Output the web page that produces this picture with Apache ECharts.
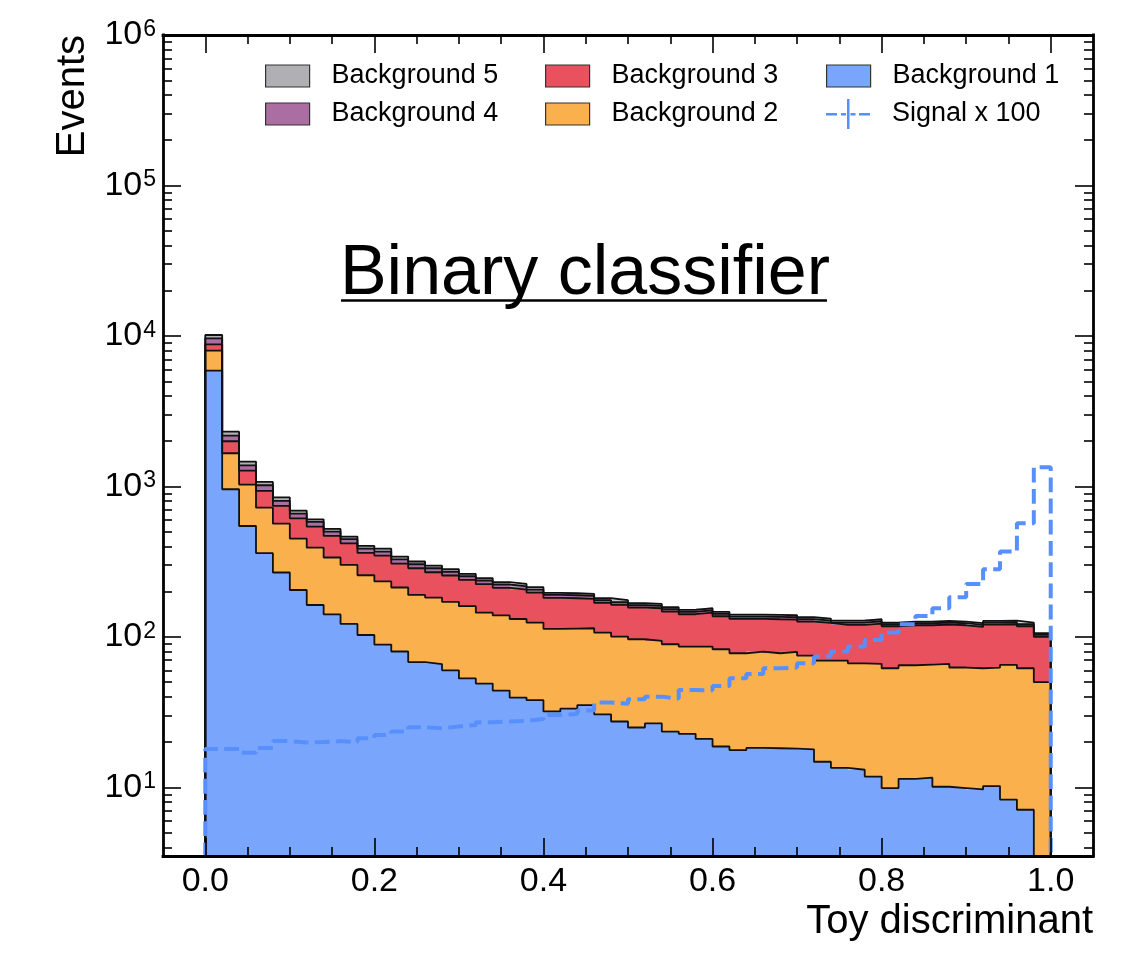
<!DOCTYPE html>
<html>
<head>
<meta charset="utf-8">
<title>Binary classifier</title>
<script src="https://cdn.jsdelivr.net/npm/echarts@6/dist/echarts.min.js"></script>
<style>
  html, body { margin: 0; padding: 0; background: #ffffff; }
  #chart { width: 1128px; height: 966px; }
</style>
</head>
<body>
<div id="chart"></div>
<script>
// 50 bins of width 0.02 on the toy discriminant, [0, 1]
const binEdges = Array.from({ length: 51 }, (_, i) => Math.round(i * 2) / 100);

// Events per bin for each background component (stacked bottom to top: 1 -> 5)
const background1 = [5885, 958, 546, 360, 268, 205, 163, 141, 122, 103,
  89, 80, 68, 66, 60, 53, 49, 44, 39.5, 38,
  32, 33.4, 35.2, 30.6, 27.4, 25, 26.6, 23.5, 22.7, 21,
  18.7, 17.7, 18.3, 18.2, 18.1, 17.9, 14.8, 13.5, 13.1, 11.8,
  9.9, 11.4, 11.6, 10.1, 9.9, 9.7, 10.2, 8.3, 7.1, 0];
const background2 = [2105, 703, 483, 363, 298, 245, 229, 196, 179, 154,
  145, 133, 122, 116.6, 111, 107, 96, 95, 92, 86.6,
  81, 80.2, 79, 76.3, 73.1, 71.5, 67.5, 65.9, 63.6, 65.3,
  64.1, 60.2, 61.6, 59.7, 61.4, 57.3, 54.8, 56.1, 53.7, 54.4,
  52, 53.4, 53.9, 56.1, 52.7, 52.2, 52.4, 56.9, 54.8, 50];
const background3 = [810, 335, 245, 211, 176, 164, 149, 132, 118, 104.5,
  113, 94, 96, 86.4, 85, 79, 79, 73, 74.5, 72.4,
  68.6, 67.1, 64.7, 61.4, 62.7, 60.1, 61, 57.9, 55.2, 58.8,
  54.4, 53.8, 51.8, 53.1, 50.9, 51.2, 54.3, 50.6, 53.4, 56.4,
  55.8, 54.7, 54, 54.6, 56.9, 54.6, 58.2, 56.2, 55.8, 50];
const background4 = [850, 181, 108, 84, 59, 46, 40, 32, 27, 24.5,
  22, 21, 18, 17, 15, 14, 13, 11, 11, 9.3,
  8.5, 8.5, 8.4, 7, 6.8, 5.7, 5.6, 5.4, 5.1, 5.3,
  5, 4.8, 4.8, 4.8, 4.7, 4.6, 4.5, 4.3, 4.3, 4.5,
  3.7, 3.8, 3.8, 3.8, 3.8, 3.7, 3.8, 3.8, 3.7, 3.1];
const background5 = [500, 136, 80, 53, 46, 31, 24, 21, 18, 16.5,
  17, 14, 13, 12, 11, 9, 9, 8, 8, 7.6,
  6, 5.9, 5.8, 5.4, 5.3, 5.1, 5, 4.7, 4.5, 4.7,
  4.4, 4.3, 4.3, 4.3, 4.2, 4.1, 4, 3.9, 3.9, 3.9,
  3.2, 3.1, 3.1, 3.2, 3.1, 3.1, 3.2, 3.2, 3.2, 2.7];

// Signal, already scaled by 100
const signalX100 = [18.0, 18.0, 17.0, 18.3, 20.3, 19.9, 20.0, 20.3, 20.0, 21.2,
  22.3, 23.5, 25.1, 24.7, 25.4, 26.0, 27.1, 27.4, 27.7, 28.5,
  30.3, 30.8, 32.4, 36.6, 35.9, 38.5, 40.1, 38.9, 44.4, 44.2,
  47.2, 53.1, 56.8, 61.9, 62.6, 66.8, 74.0, 79.9, 86.3, 95.5,
  106.9, 121.4, 137.9, 155.1, 183.5, 225.0, 281.7, 369.0, 569.1, 1341];

// Axis ticks
const xMajorTicks = [0, 0.2, 0.4, 0.6, 0.8, 1.0];
const xMinorTicks = [0.05, 0.1, 0.15, 0.25, 0.3, 0.35, 0.45, 0.5, 0.55, 0.65, 0.7, 0.75, 0.85, 0.9, 0.95];
const yMajorTicks = [1e1, 1e2, 1e3, 1e4, 1e5, 1e6];
const yMinorTicks = [];
for (let e = 0; e < 6; e++) {
  for (let m = 2; m <= 9; m++) yMinorTicks.push(m * Math.pow(10, e));
}

const X_MIN = -0.05, X_MAX = 1.05;
const Y_MIN = 3.5, Y_MAX = 1e6;
const FLOOR = 0.01; // below the visible range: step outlines drop to the frame
const FONT = '"Liberation Sans", Arial, Helvetica, sans-serif';

const layers = [
  { name: 'Background 1', values: background1, color: '#79a6fc' },
  { name: 'Background 2', values: background2, color: '#f9b04d' },
  { name: 'Background 3', values: background3, color: '#e9515e' },
  { name: 'Background 4', values: background4, color: '#ab6ea2' },
  { name: 'Background 5', values: background5, color: '#b0b0b4' }
];
const SIGNAL_COLOR = '#5790fc';

// cumulative stack
let running = background1.map(() => 0);
layers.forEach(l => {
  l.bottoms = running.slice();
  running = running.map((v, i) => v + l.values[i]);
  l.tops = running.slice();
});

function stepPoints(vals) {
  const pts = [[binEdges[0], FLOOR]];
  vals.forEach((v, i) => {
    const y = v > FLOOR ? v : FLOOR;
    pts.push([binEdges[i], y], [binEdges[i + 1], y]);
  });
  pts.push([binEdges[vals.length], FLOOR]);
  return pts;
}

// one filled rectangle per bin, snapped to whole pixels horizontally so
// neighbouring bins of a layer meet without seams
function makeFillRenderer(color) {
  return function (params, api) {
    const lo = api.value(0), hi = api.value(1);
    const bot = api.value(2), top = api.value(3);
    if (!(top > 0) || top <= bot) return null;
    const cs = params.coordSys;
    const pTop = api.coord([lo, top]);
    const pRight = api.coord([hi, top]);
    const yBot = bot > 0 ? api.coord([lo, bot])[1] : cs.y + cs.height + 5;
    const x0 = Math.round(pTop[0]), x1 = Math.round(pRight[0]);
    const rect = echarts.graphic.clipRectByRect(
      { x: x0, y: pTop[1], width: x1 - x0, height: yBot - pTop[1] },
      { x: cs.x, y: cs.y, width: cs.width, height: cs.height }
    );
    if (!rect) return null;
    return { type: 'rect', shape: rect, style: { fill: color } };
  };
}

const series = [];
layers.forEach(l => {
  series.push({
    type: 'custom',
    name: l.name,
    xAxisIndex: 0,
    yAxisIndex: 0,
    z: 2,
    silent: true,
    itemStyle: { color: l.color },
    renderItem: makeFillRenderer(l.color),
    encode: { x: [0, 1], y: [2, 3] },
    data: l.values.map((v, i) => [binEdges[i], binEdges[i + 1], l.bottoms[i], l.tops[i]])
  });
});
layers.forEach(l => {
  series.push({
    type: 'line',
    xAxisIndex: 0,
    yAxisIndex: 0,
    z: 3,
    silent: true,
    clip: true,
    symbol: 'none',
    lineStyle: { color: '#111', width: 1.8 },
    data: stepPoints(l.tops)
  });
});
series.push({
  type: 'line',
  name: 'Signal x 100',
  xAxisIndex: 0,
  yAxisIndex: 0,
  z: 4,
  silent: true,
  clip: true,
  symbol: 'none',
  itemStyle: { color: SIGNAL_COLOR },
  lineStyle: { color: SIGNAL_COLOR, width: 4, type: [14.8, 6.4] },
  data: stepPoints(signalX100)
});

const frameLine = { show: true, onZero: false, lineStyle: { color: '#000', width: 2.8, cap: 'square' } };
const tickStyle = { color: '#000', width: 1.6 };

function xAxisDef(position, major, withLine) {
  return {
    type: 'value', position, min: X_MIN, max: X_MAX, z: 10,
    splitLine: { show: false },
    axisLine: withLine ? frameLine : { show: false, onZero: false },
    axisTick: { show: true, inside: true, length: major ? 18 : 9, lineStyle: tickStyle,
      customValues: major ? xMajorTicks : xMinorTicks },
    axisLabel: (position === 'bottom' && major) ? {
      show: true, customValues: xMajorTicks, margin: 9,
      fontFamily: FONT, fontSize: 34, color: '#000',
      formatter: v => v.toFixed(1)
    } : { show: false }
  };
}

function yLabelFormatter(v) {
  const lg = Math.log10(v);
  const e = Math.round(lg);
  if (Math.abs(lg - e) > 1e-6) return '';
  return '{b|10}{e|' + e + '}';
}

function yAxisDef(position, major, withLine) {
  return {
    type: 'log', logBase: 10, position, min: Y_MIN, max: Y_MAX, z: 10,
    splitLine: { show: false },
    minorTick: { show: false },
    axisLine: withLine ? frameLine : { show: false, onZero: false },
    axisTick: { show: true, inside: true, length: major ? 18 : 9, lineStyle: tickStyle,
      customValues: major ? yMajorTicks : yMinorTicks },
    axisLabel: (position === 'left' && major) ? {
      show: true, customValues: yMajorTicks, margin: 7,
      formatter: yLabelFormatter,
      rich: {
        b: { fontFamily: FONT, fontSize: 34, color: '#000', lineHeight: 34, verticalAlign: 'bottom' },
        e: { fontFamily: FONT, fontSize: 23, color: '#000', lineHeight: 23, verticalAlign: 'top', padding: [0, 0, 21, 1] }
      }
    } : { show: false }
  };
}

const legendBase = {
  orient: 'vertical', padding: 0, itemWidth: 44, itemHeight: 22, itemGap: 10,
  selectedMode: false, icon: 'rect',
  textStyle: { fontFamily: FONT, fontSize: 27, color: '#000', lineHeight: 28, padding: [0, 0, 0, 17] }
};
function legendItem(l) {
  return { name: l.name, icon: 'rect', itemStyle: { color: l.color, borderColor: '#333', borderWidth: 1.2 } };
}
// dashed line with a vertical error bar through its middle
const SIGNAL_ICON = 'path://M0 14H11V16.5H0Z M15 14H20V16.5H15Z M21 0H23.5V30H21Z M24.5 14H29.5V16.5H24.5Z M33 14H44V16.5H33Z';

const option = {
  animation: false,
  backgroundColor: '#ffffff',
  grid: { left: 163, right: 35, top: 35, bottom: 110, outerBoundsMode: 'none', containLabel: false },
  xAxis: [
    xAxisDef('bottom', true, true),
    xAxisDef('bottom', false, false),
    xAxisDef('top', true, true),
    xAxisDef('top', false, false)
  ],
  yAxis: [
    yAxisDef('left', true, true),
    yAxisDef('left', false, false),
    yAxisDef('right', true, true),
    yAxisDef('right', false, false)
  ],
  legend: [
    Object.assign({}, legendBase, { left: 265, top: 62, data: [legendItem(layers[4]), legendItem(layers[3])] }),
    Object.assign({}, legendBase, { left: 545, top: 62, data: [legendItem(layers[2]), legendItem(layers[1])] }),
    Object.assign({}, legendBase, { left: 826, top: 62, data: [legendItem(layers[0])] }),
    Object.assign({}, legendBase, { left: 826, top: 99, itemHeight: 30,
      data: [{ name: 'Signal x 100', icon: SIGNAL_ICON, itemStyle: { color: SIGNAL_COLOR, borderWidth: 0 } }] })
  ],
  graphic: [
    { type: 'text', x: 585, y: 275, z: 20, silent: true,
      style: { text: 'Binary classifier', fontFamily: FONT, fontSize: 70, fill: '#000',
        align: 'center', verticalAlign: 'middle', textAlign: 'center', textVerticalAlign: 'middle' } },
    { type: 'line', z: 20, silent: true,
      shape: { x1: 341, y1: 300.5, x2: 827, y2: 300.5 }, style: { stroke: '#000', lineWidth: 2.6 } },
    { type: 'text', x: 73, y: 35, rotation: Math.PI / 2, z: 20, silent: true,
      style: { text: 'Events', fontFamily: FONT, fontSize: 40, fill: '#000',
        align: 'right', verticalAlign: 'middle', textAlign: 'right', textVerticalAlign: 'middle' } },
    { type: 'text', x: 1093, y: 922, z: 20, silent: true,
      style: { text: 'Toy discriminant', fontFamily: FONT, fontSize: 40, fill: '#000',
        align: 'right', verticalAlign: 'middle', textAlign: 'right', textVerticalAlign: 'middle' } }
  ],
  series
};

const chart = echarts.init(document.getElementById('chart'), null, { renderer: 'canvas', width: 1128, height: 966 });
chart.setOption(option);
</script>
</body>
</html>
